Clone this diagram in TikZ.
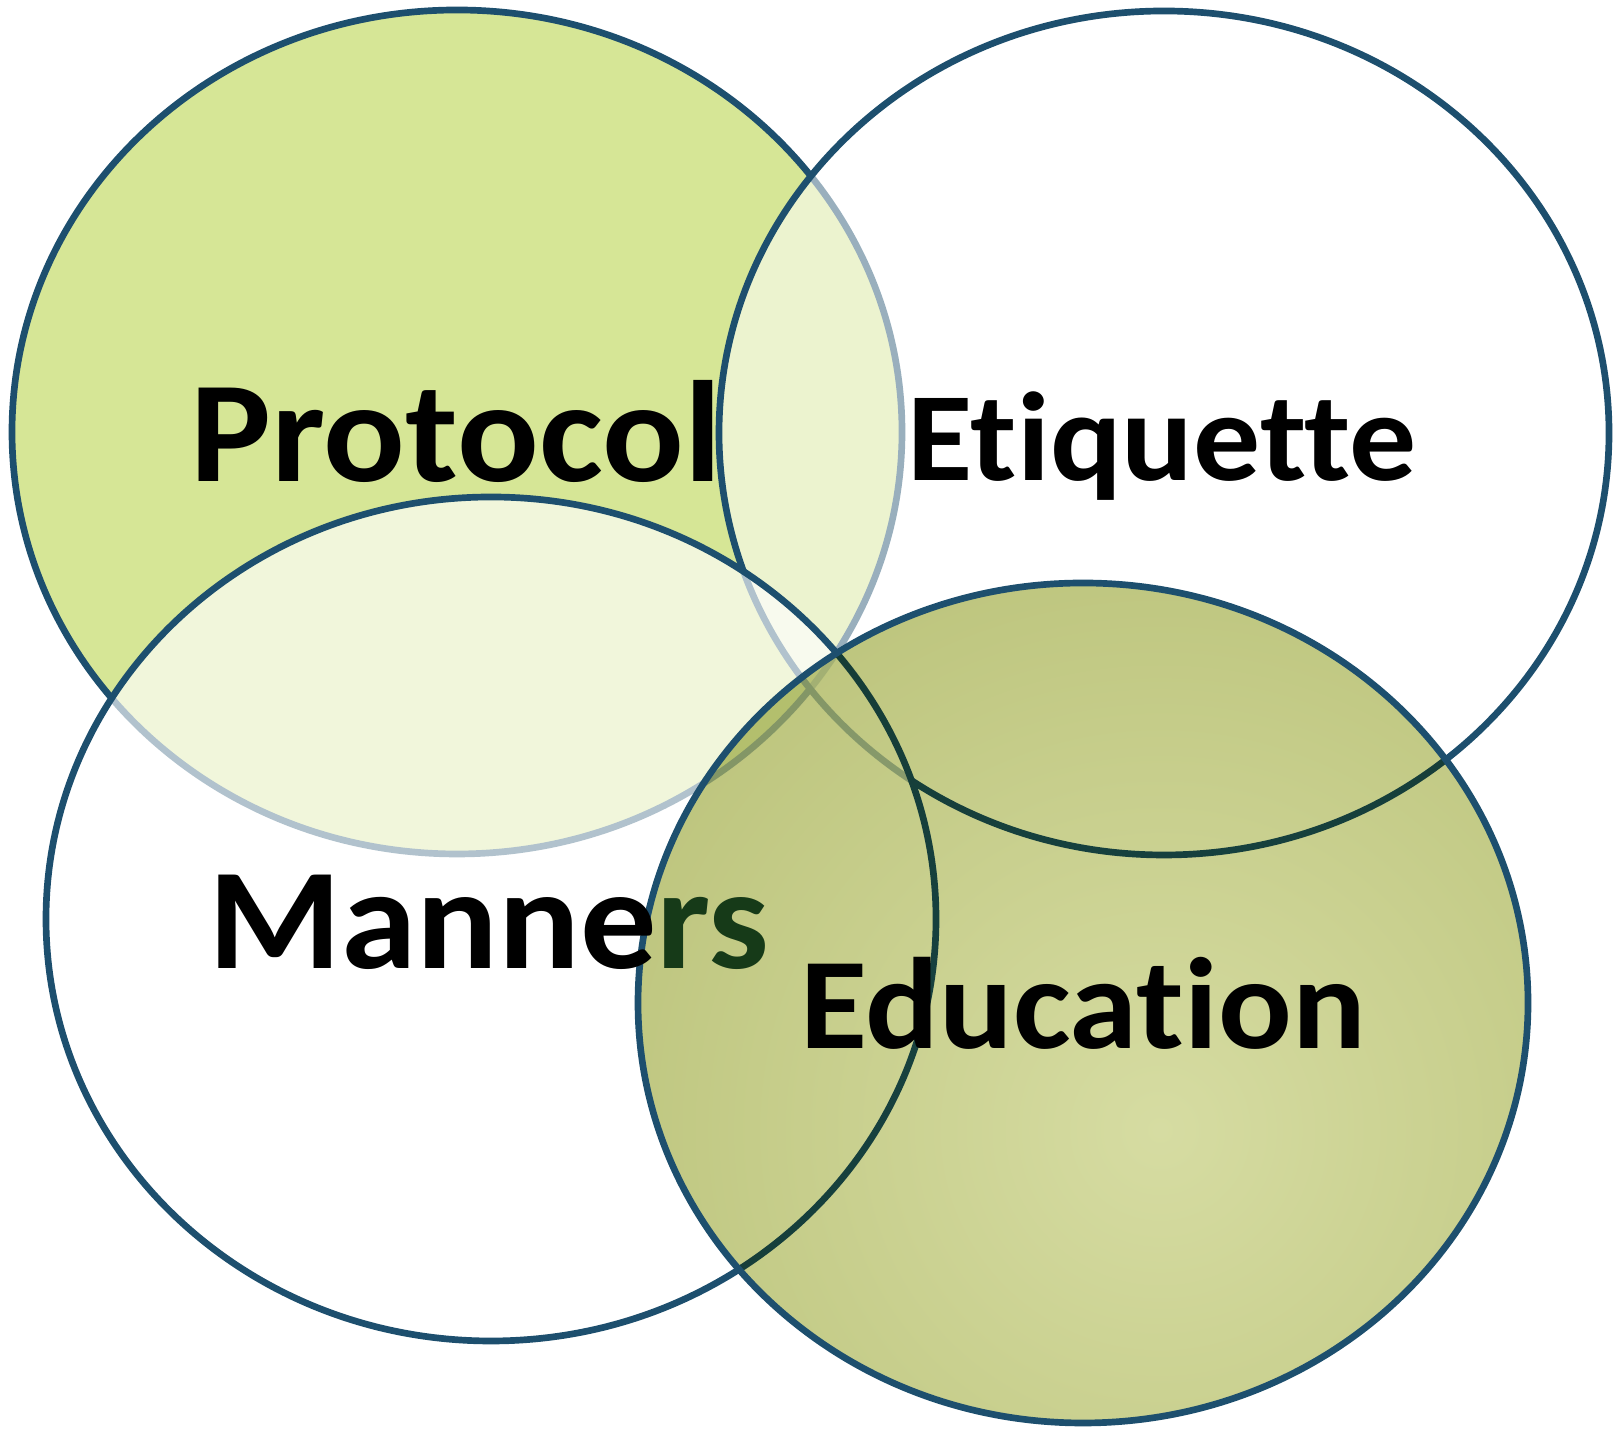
\documentclass[tikz,border=0pt]{standalone}
\usepackage{fontspec}
\setmainfont{Carlito}[RawFeature={-liga;-dlig;-clig}]
\usetikzlibrary{shapes.geometric}
\definecolor{ln}{RGB}{29,79,110}
\definecolor{protfill}{RGB}{214,230,150}
\definecolor{edulight}{RGB}{214,220,162}
\definecolor{edudark}{RGB}{188,196,124}
\definecolor{rsgreen}{RGB}{22,58,24}
\tikzset{
  venn/.style={ellipse, draw=ln, line width=1.9pt, inner sep=0pt,
    minimum width=8.9cm, minimum height=8.44cm},
  lbl/.style={inner sep=0pt, anchor=base, text=black}
}
\begin{document}
\begin{tikzpicture}
\useasboundingbox (0,0) rectangle (16.17,14.30);
\fill[white] (0,0) rectangle (16.17,14.30);
% circles
\node[venn, fill=protfill] (prot) at (4.57,9.98) {};
\node[venn, fill=white, fill opacity=0.55] (etiq) at (11.64,9.97) {};
\node[venn, fill=white, fill opacity=0.66] (mann) at (4.91,5.11) {};
\begin{scope}[blend mode=multiply]
  \clip (10.83,4.27) ellipse [x radius=4.45, y radius=4.20];
  \shade[inner color=edulight, outer color=edudark] (11.6,3.0) circle (6.2);
\end{scope}
\node[venn, minimum height=8.40cm] (edu) at (10.83,4.27) {};
% labels
\node[lbl, font=\fontsize{41}{41}\selectfont\bfseries] (tprot) at (4.56,9.48) {\scalebox{1.057}[1]{Protocol}};
\node[lbl, font=\fontsize{36}{36}\selectfont\bfseries] (tetiq) at (11.62,9.49) {\scalebox{1.057}[1]{Etiquette}};
\node[lbl, font=\fontsize{41}{41}\selectfont\bfseries] (tmann) at (4.89,4.61) {\scalebox{1.057}[1]{Manne\textcolor{rsgreen}{rs}}};
\node[lbl, font=\fontsize{37}{37}\selectfont\bfseries] (tedu) at (10.83,3.81) {\scalebox{1.057}[1]{Education}};
\end{tikzpicture}
\end{document}
